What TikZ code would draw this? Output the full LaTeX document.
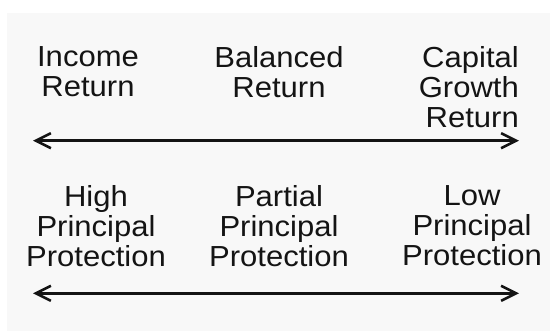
\documentclass[tikz,border=0pt]{standalone}
\usepackage{fontspec}
\setmainfont{Liberation Sans}[FakeStretch=1.07]
\usetikzlibrary{arrows.meta}
\definecolor{PanelClr}{rgb}{0.973,0.973,0.973}
\definecolor{InkClr}{rgb}{0.08,0.08,0.08}

\begin{document}
\begin{tikzpicture}[x=1pt,y=-1pt,
  scaletext/.style={inner sep=0pt,anchor=north,align=center,text=InkClr,
    font=\fontsize{29}{30}\selectfont},
  scalearrow/.style={draw=InkClr,line width=2.6pt,
    {Straight Barb[length=15pt,width=15pt]}-{Straight Barb[length=15pt,width=15pt]}}]
\useasboundingbox (0,0) rectangle (550,331);
\fill[white] (0,0) rectangle (550,331);
\fill[PanelClr] (7,13) rectangle (550,331);

\node[scaletext] (income) at (88,46.5) {Income\\Return};
\node[scaletext] (balanced) at (279,46.5) {Balanced\\Return};
\node[scaletext,anchor=north east,align=right] (growth) at (519,46.5) {Capital\\Growth\\Return};

\coordinate (retL) at (33,140.7);
\coordinate (retR) at (519,140.7);
\draw[scalearrow] (retL) -- (retR);

\node[scaletext] (high) at (96,185) {High\\Principal\\Protection};
\node[scaletext] (partial) at (279,185) {Partial\\Principal\\Protection};
\node[scaletext] (low) at (472,185) {Low\\Principal\\Protection};

\coordinate (protL) at (33,293.3);
\coordinate (protR) at (519,293.3);
\draw[scalearrow] (protL) -- (protR);

\end{tikzpicture}
\end{document}
